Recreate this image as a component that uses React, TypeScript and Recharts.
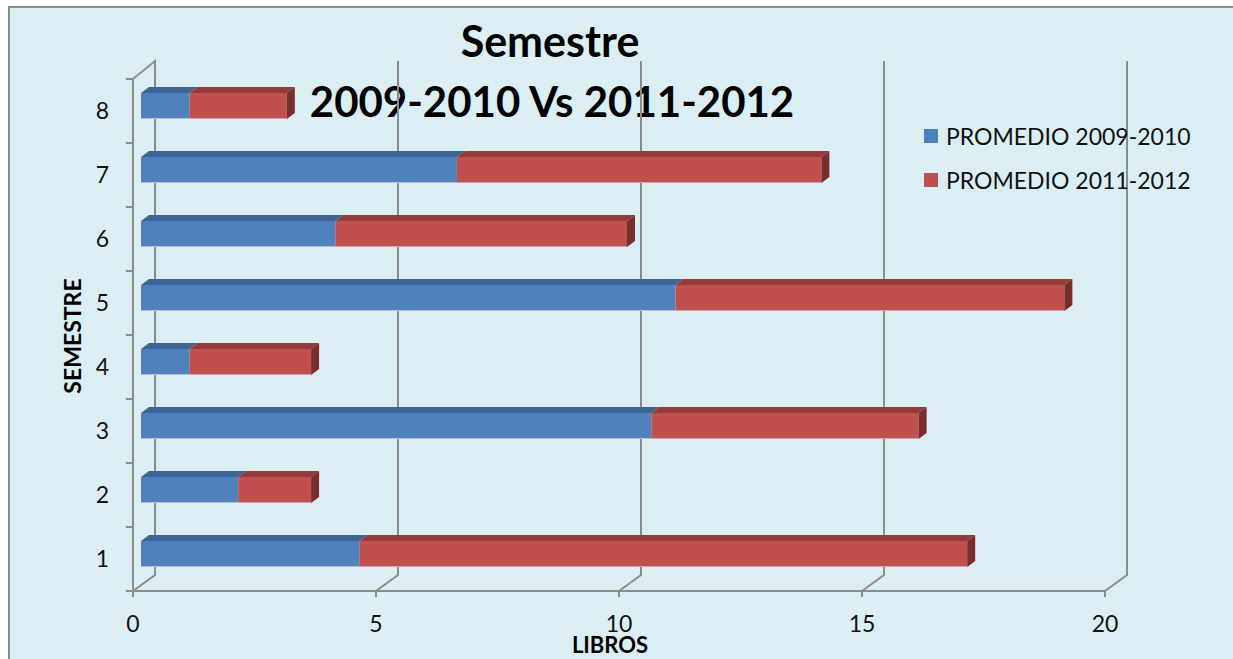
import { Bar, BarChart, CartesianGrid, Legend, XAxis, YAxis } from "recharts";

const semestres = ["1", "2", "3", "4", "5", "6", "7", "8"];
const promedio0910 = [4.5, 2, 10.5, 1, 11, 4, 6.5, 1];
const promedio1112 = [12.5, 1.5, 5.5, 2.5, 8, 6, 7.5, 2];
const xTicks = [0, 5, 10, 15, 20];

const data = semestres.map((semestre, i) => ({
  semestre,
  p0910: promedio0910[i],
  p1112: promedio1112[i],
}));

const W = 1223;
const H = 651;
const margin = { top: 71, right: 128, left: 30, bottom: 28 };
const plotH = H - margin.top - margin.bottom - 40;
const band = plotH / semestres.length;
const grey = "#8c8c8c";
const font = "Lato, 'Open Sans', sans-serif";

// 3d look: wall depth and bar depth
const wallDx = 22;
const wallDy = 16;
const barDx = 8;
const barDy = 6;

function Bar3D(props: any) {
  const { x, y, width, height, fill, topFill, sideFill, edge, withSide } = props;
  if (!width || width <= 0) return null;
  const fx = x + barDx;
  const fy = y - 5;
  return (
    <g>
      <polygon
        points={`${fx},${fy} ${fx + width},${fy} ${fx + width + barDx},${fy - barDy} ${fx + barDx},${fy - barDy}`}
        fill={topFill}
      />
      <rect x={fx} y={fy} width={width} height={height} fill={fill} />
      <line x1={fx} x2={fx + width} y1={fy + height - 0.5} y2={fy + height - 0.5} stroke={edge} strokeWidth={1} />
      {withSide ? (
        <polygon
          points={`${fx + width},${fy} ${fx + width + barDx},${fy - barDy} ${fx + width + barDx},${fy - barDy + height} ${fx + width},${fy + height}`}
          fill={sideFill}
        />
      ) : null}
    </g>
  );
}

function GridLine(props: any) {
  const { x1, y1, y2, index } = props;
  const bx = x1 + wallDx;
  const d =
    index === 0
      ? `M${x1},${y1} L${bx},${y1 - wallDy - 2} L${bx},${y2 - wallDy} L${x1},${y2}`
      : `M${bx},${y1 - wallDy - 2} L${bx},${y2 - wallDy} L${x1},${y2}`;
  return <path key={`g-${index}`} d={d} fill="none" stroke={grey} strokeWidth={2} />;
}

function YTick(props: any) {
  const { x, y, payload } = props;
  const axisX = x + 25;
  return (
    <g>
      <line x1={axisX - 7} x2={axisX} y1={y - band / 2} y2={y - band / 2} stroke={grey} strokeWidth={2} />
      <line x1={axisX - 7} x2={axisX} y1={y + band / 2} y2={y + band / 2} stroke={grey} strokeWidth={2} />
      <text x={x + 1} y={y} dy="0.35em" textAnchor="end" fontFamily={font} fontSize={23} fill="#111">
        {payload.value}
      </text>
    </g>
  );
}

function LegendBox({ payload }: any) {
  return (
    <div style={{ fontFamily: font, fontSize: 23, color: "#111" }}>
      {(payload || []).map((p: any) => (
        <div key={p.value} style={{ display: "flex", alignItems: "center", height: 44, whiteSpace: "nowrap" }}>
          <span style={{ width: 14, height: 14, background: p.color, marginRight: 8, display: "inline-block" }} />
          {p.value}
        </div>
      ))}
    </div>
  );
}

export default function App() {
  return (
    <div
      style={{
        position: "fixed",
        left: 8,
        top: 6,
        width: 1225,
        height: 653,
        boxSizing: "border-box",
        borderTop: `2px solid ${grey}`,
        borderLeft: `2px solid ${grey}`,
        background: "#dbeef4",
        overflow: "hidden",
      }}
    >
      <svg width={W} height={H} style={{ position: "absolute", left: 0, top: 0 }}>
        <text x={540} y={49} textAnchor="middle" fontFamily={font} fontWeight="bold" fontSize={43} fill="#000">
          Semestre
        </text>
        <text x={542} y={109} textAnchor="middle" fontFamily={font} fontWeight="bold" fontSize={42} fill="#000">
          2009-2010 Vs 2011-2012
        </text>
      </svg>
      <BarChart width={W} height={H} data={data} layout="vertical" margin={margin} barSize={26}>
        <CartesianGrid horizontal={false} vertical={GridLine} />
        <XAxis
          type="number"
          domain={[0, 20]}
          ticks={xTicks}
          interval={0}
          height={40}
          axisLine={{ stroke: grey, strokeWidth: 2 }}
          tickLine={{ stroke: grey, strokeWidth: 2 }}
          tickSize={6}
          tickMargin={19}
          tick={{ fontFamily: font, fontSize: 23, fill: "#111" }}
          label={{
            content: ({ viewBox }: any) => (
              <text
                x={viewBox.x + viewBox.width / 2 - 9}
                y={viewBox.y + 62}
                textAnchor="middle"
                fontFamily={font}
                fontWeight="bold"
                fontSize={22}
                fill="#000"
              >
                LIBROS
              </text>
            ),
          }}
        />
        <YAxis
          type="category"
          dataKey="semestre"
          reversed
          width={93}
          axisLine={{ stroke: grey, strokeWidth: 2 }}
          tickLine={false}
          tickMargin={19}
          tick={YTick}
          label={{
            content: ({ viewBox }: any) => {
              const cx = viewBox.x + 32;
              const cy = viewBox.y + viewBox.height / 2 + 1;
              return (
                <text
                  x={cx}
                  y={cy}
                  transform={`rotate(-90 ${cx} ${cy})`}
                  textAnchor="middle"
                  dominantBaseline="central"
                  fontFamily={font}
                  fontWeight="bold"
                  fontSize={23}
                  fill="#000"
                >
                  SEMESTRE
                </text>
              );
            },
          }}
        />
        <Legend
          layout="vertical"
          align="center"
          verticalAlign="middle"
          wrapperStyle={{ left: 914, top: 106 }}
          content={LegendBox}
        />
        <Bar
          dataKey="p0910"
          name="PROMEDIO 2009-2010"
          stackId="a"
          fill="#4f81bd"
          isAnimationActive={false}
          shape={(p: any) => <Bar3D {...p} topFill="#3c6494" edge="#a9c2e2" />}
        />
        <Bar
          dataKey="p1112"
          name="PROMEDIO 2011-2012"
          stackId="a"
          fill="#c0504d"
          isAnimationActive={false}
          shape={(p: any) => <Bar3D {...p} topFill="#933b38" sideFill="#7a2e2c" edge="#dca3a2" withSide />}
        />
      </BarChart>
    </div>
  );
}
